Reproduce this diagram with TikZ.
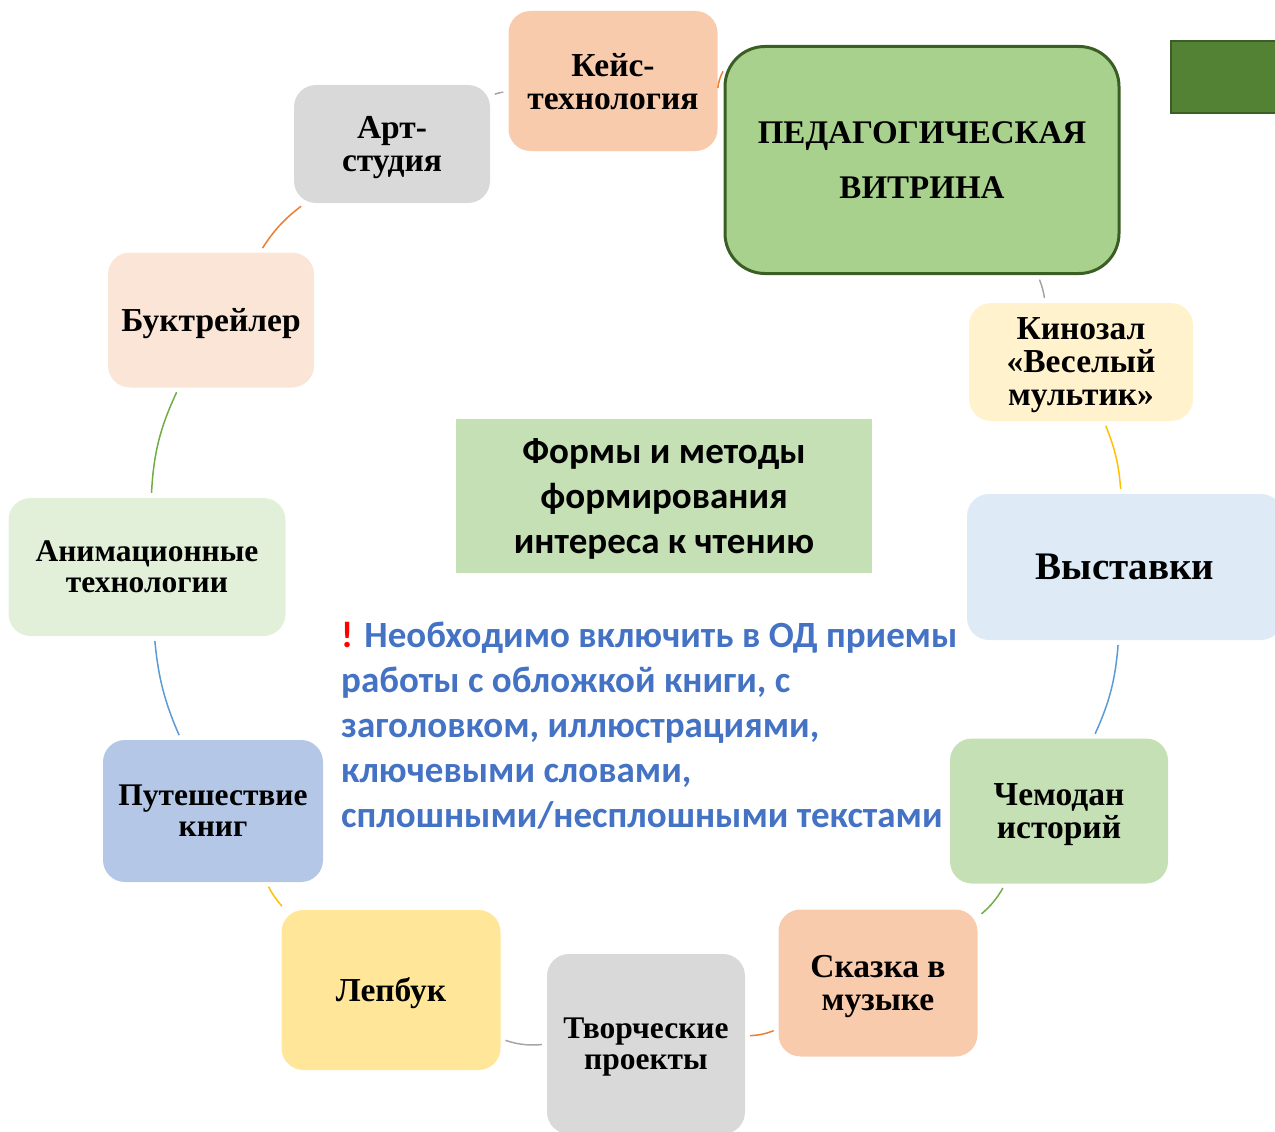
\documentclass[tikz,border=0pt]{standalone}
\usepackage{fontspec}
\setmainfont{Liberation Serif}
\newfontfamily\sansfont{Carlito}
\definecolor{peach}{HTML}{F8CBAD}
\definecolor{lightpeach}{HTML}{FBE5D6}
\definecolor{lightgray}{HTML}{D9D9D9}
\definecolor{cream}{HTML}{FFF2CC}
\definecolor{paleblue}{HTML}{DEEBF7}
\definecolor{palegreen}{HTML}{E2F0D9}
\definecolor{softgreen}{HTML}{C5E0B4}
\definecolor{softblue}{HTML}{B4C7E7}
\definecolor{softgold}{HTML}{FFE699}
\definecolor{pedgreen}{HTML}{A9D18E}
\definecolor{pededge}{HTML}{3B5E25}
\definecolor{tabgreen}{HTML}{548235}
\definecolor{notecolor}{HTML}{4472C4}
\definecolor{arcgray}{HTML}{A5A5A5}
\definecolor{arcgold}{HTML}{FFC000}
\definecolor{arcblue}{HTML}{5B9BD5}
\definecolor{arcgreen}{HTML}{70AD47}
\definecolor{arcorange}{HTML}{ED7D31}
\tikzset{
	form/.style={rounded corners=22pt, align=center, inner sep=0pt, text depth=0pt, font=\bfseries\fontsize{33.5}{33}\selectfont},
	smallform/.style={form, font=\bfseries\fontsize{31.5}{31}\selectfont},
	link/.style={line width=1.5pt, shorten <=5pt, shorten >=5pt},
}
\begin{document}
\begin{tikzpicture}[x=1pt,y=-1pt]
	\useasboundingbox (0,0) rectangle (1275,1132);
	\clip (0,0) rectangle (1275,1132);
	%Title and note
	\node[fill=softgreen, minimum width=416pt, minimum height=154pt, align=center, text depth=0pt, font=\sansfont\bfseries\fontsize{37}{45}\selectfont] (title) at (664,496) {Формы и методы\\формирования\\интереса к чтению};
	\node[anchor=north west, align=left, inner sep=0pt, text=notecolor, font=\sansfont\bfseries\fontsize{37}{45}\selectfont] (note) at (341,622) {{\color{red}!} Необходимо включить в ОД приемы\\работы с обложкой книги, с\\заголовком, иллюстрациями,\\ключевыми словами,\\сплошными/несплошными текстами};
	%Showcase
	\node[fill=tabgreen, draw=pededge, line width=2pt, minimum width=130pt, minimum height=72pt] (tab) at (1236,77) {};
	\node[form, fill=pedgreen, draw=pededge, line width=3pt, rounded corners=40pt, minimum width=394pt, minimum height=227pt, font=\bfseries\fontsize{33}{55}\selectfont] (ped) at (922,160) {ПЕДАГОГИЧЕСКАЯ\\ВИТРИНА};
	%Forms
	\node[form, fill=cream, minimum width=224pt, minimum height=118pt] (kino) at (1081,362) {Кинозал\\«Веселый\\мультик»};
	\node[form, fill=paleblue, minimum width=316pt, minimum height=146pt, font=\bfseries\fontsize{39}{40}\selectfont] (vyst) at (1125,567) {Выставки};
	\node[form, fill=softgreen, minimum width=218pt, minimum height=145pt] (chem) at (1059,811) {Чемодан\\историй};
	\node[form, fill=peach, minimum width=199pt, minimum height=147pt] (skaz) at (878,983) {Сказка в\\музыке};
	\node[smallform, fill=lightgray, minimum width=198pt, minimum height=180pt] (tvor) at (646,1044) {Творческие\\проекты};
	\node[form, fill=softgold, minimum width=219pt, minimum height=160pt] (lep) at (391,990) {Лепбук};
	\node[smallform, fill=softblue, minimum width=220pt, minimum height=142pt] (put) at (213,811) {Путешествие\\книг};
	\node[smallform, fill=palegreen, minimum width=277pt, minimum height=138pt] (anim) at (147,567) {Анимационные\\технологии};
	\node[form, fill=lightpeach, minimum width=206pt, minimum height=135pt] (buk) at (211,320) {Буктрейлер};
	\node[form, fill=lightgray, minimum width=196pt, minimum height=118pt] (art) at (392,144) {Арт-\\студия};
	\node[form, fill=peach, minimum width=209pt, minimum height=140pt] (keis) at (613,81) {Кейс-\\технология};
	%Cycle
	\draw[link, arcgray] (ped) to[bend left=7] (kino);
	\draw[link, arcgold] (kino) to[bend left=9] (vyst);
	\draw[link, arcblue] (vyst) to[bend left=10] (chem);
	\draw[link, arcgreen] (chem) to[bend left=10] (skaz);
	\draw[link, arcorange] (skaz) to[bend left=10] (tvor);
	\draw[link, arcgray] (tvor) to[bend left=12] (lep);
	\draw[link, arcgold] (lep) to[bend left=8] (put);
	\draw[link, arcblue] (put) to[bend left=9] (anim);
	\draw[link, arcgreen] (anim) to[bend left=11] (buk);
	\draw[link, arcorange] (buk) to[bend left=10] (art);
	\draw[link, arcgray] (art) to[bend left=10] (keis);
	\draw[link, arcorange, shorten <=1pt, shorten >=1pt] (keis) to[bend left=10] (ped);
\end{tikzpicture}
\end{document}
